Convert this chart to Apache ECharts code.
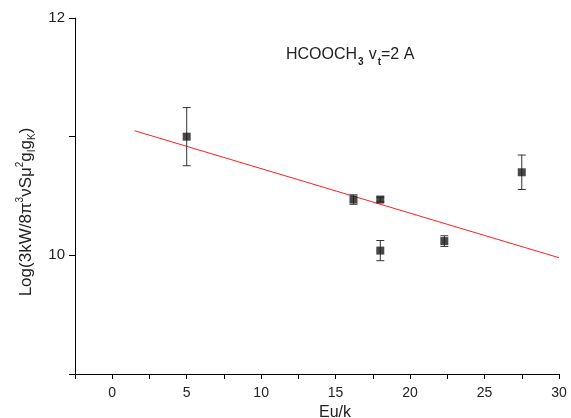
<!DOCTYPE html>
<html><head><meta charset="utf-8">
<script src="https://cdn.jsdelivr.net/npm/echarts@6/dist/echarts.min.js"></script>
<style>html,body{margin:0;padding:0;background:#fff;overflow:hidden}#c{width:571px;height:418px}</style>
</head><body><div id="c"></div>
<script>
var euK = [5, 16.2, 18, 18, 22.3, 27.5];
var logVal = [11.0, 10.47, 10.47, 10.04, 10.12, 10.70];
var errVal = [0.245, 0.04, 0.02, 0.085, 0.045, 0.145];
var fitX = [1.5, 30];
var fitY = [11.05, 9.98];
var xTickLabels = [0, 5, 10, 15, 20, 25, 30];
var yTickLabels = [10, 12];

var FONT = '"Liberation Sans", Arial, sans-serif';
var chart = echarts.init(document.getElementById('c'), null, {renderer: 'canvas'});
var pts = euK.map(function(x, i){ return [x, logVal[i]]; });
var errs = euK.map(function(x, i){ return [x, logVal[i] - errVal[i], logVal[i] + errVal[i]]; });
var fit = fitX.map(function(x, i){ return [x, fitY[i]]; });

chart.setOption({
  animation: false,
  backgroundColor: '#fff',
  grid: {left: 75, right: 12, top: 18, bottom: 44, containLabel: false, outerBoundsMode: 'none'},
  title: {
    text: '{m|HCOOCH}{s|3} {m|v}{s|t}{m|=2 A}',
    left: 281, top: 38,
    textStyle: {
      rich: {
        m: {fontFamily: FONT, fontSize: 16, color: '#222', fontWeight: 'normal'},
        s: {fontFamily: FONT, fontSize: 10, color: '#222', verticalAlign: 'bottom', padding: [14, 0, 0, 1]}
      }
    }
  },
  xAxis: {
    type: 'value', min: -2.5, max: 30, interval: 2.5,
    name: 'Eu/k', nameLocation: 'middle', nameGap: 17,
    nameTextStyle: {fontFamily: FONT, fontSize: 16, color: '#222', padding: [0, 0, 0, 36]},
    axisLine: {onZero: false, lineStyle: {color: '#000', width: 1}},
    axisTick: {show: true, inside: false, length: 5, lineStyle: {color: '#000'}},
    axisLabel: {
      fontFamily: FONT, fontSize: 14, color: '#222', margin: 12,
      formatter: function(v){ return xTickLabels.indexOf(v) >= 0 ? String(v) : ''; }
    },
    splitLine: {show: false}
  },
  yAxis: {
    type: 'value', min: 9, max: 12, interval: 1,
    name: '{m|Log(3kW/8π}{p|3}{m|νSμ}{p|2}{m|g}{b|I}{m|g}{b|K}{m|)}',
    nameLocation: 'middle', nameGap: 38, nameRotate: 90,
    nameTextStyle: {
      padding: [0, 32, 0, 0],
      rich: {
        m: {fontFamily: FONT, fontSize: 17, color: '#222'},
        p: {fontFamily: FONT, fontSize: 10, color: '#222', verticalAlign: 'top', padding: [0, 0, 12, 0]},
        b: {fontFamily: FONT, fontSize: 10, color: '#222', verticalAlign: 'bottom', padding: [10, 0, 0, 0]}
      }
    },
    axisLine: {onZero: false, lineStyle: {color: '#000', width: 1}},
    axisTick: {show: true, inside: false, length: 6, lineStyle: {color: '#000'}},
    axisLabel: {
      fontFamily: FONT, fontSize: 15, color: '#222', margin: 10,
      formatter: function(v){ return yTickLabels.indexOf(v) >= 0 ? String(v) : ''; }
    },
    splitLine: {show: false}
  },
  series: [
    {
      type: 'line', data: fit, showSymbol: false, symbol: 'none',
      lineStyle: {color: '#ff2020', width: 1}, z: 2
    },
    {
      type: 'custom', z: 3,
      renderItem: function(params, api){
        var x = api.value(0), lo = api.value(1), hi = api.value(2);
        var pLo = api.coord([x, lo]), pHi = api.coord([x, hi]);
        var w = 4;
        var st = {stroke: '#333', lineWidth: 1};
        return {type: 'group', children: [
          {type: 'line', shape: {x1: pLo[0], y1: pLo[1], x2: pHi[0], y2: pHi[1]}, style: st},
          {type: 'line', shape: {x1: pLo[0]-w, y1: pLo[1], x2: pLo[0]+w, y2: pLo[1]}, style: st},
          {type: 'line', shape: {x1: pHi[0]-w, y1: pHi[1], x2: pHi[0]+w, y2: pHi[1]}, style: st}
        ]};
      },
      encode: {x: 0, y: [1, 2]},
      data: errs
    },
    {
      type: 'scatter', data: pts, symbol: 'rect', symbolSize: 8,
      itemStyle: {color: '#1a1a1a'}, z: 4
    }
  ]
});
</script></body></html>
